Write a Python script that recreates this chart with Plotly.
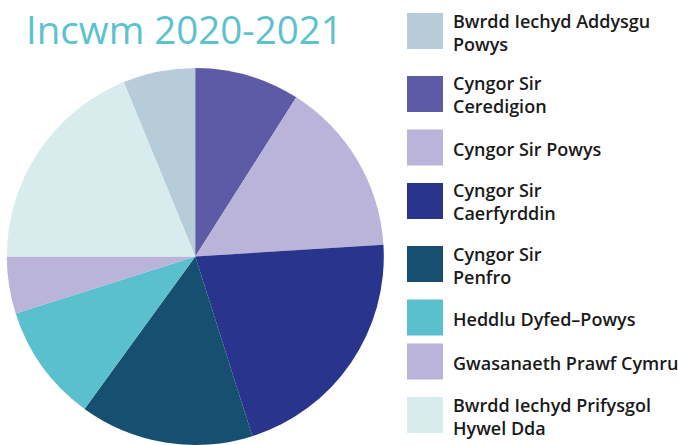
import plotly.graph_objects as go

W, H = 678, 445

title_text = "Incwm 2020-2021"
labels = [
    "Bwrdd Iechyd Addysgu<br>Powys",
    "Cyngor Sir<br>Ceredigion",
    "Cyngor Sir Powys",
    "Cyngor Sir<br>Caerfyrddin",
    "Cyngor Sir<br>Penfro",
    "Heddlu Dyfed\u2013Powys",
    "Gwasanaeth Prawf Cymru",
    "Bwrdd Iechyd Prifysgol<br>Hywel Dda",
]
values = [6.2, 9.0, 15.0, 21.1, 14.9, 10.1, 4.9, 18.8]
colors = ["#b7ccd9", "#5d5ba5", "#bab4da", "#29348c", "#164f70", "#5bc0cd", "#bab4da", "#d8ecee"]

total = sum(values)
rotation = -values[0] / total * 360

def px_x(x):
    return x / W

def px_y(y):
    return 1 - y / H

fig = go.Figure()
fig.add_trace(go.Pie(
    labels=[l.replace("<br>", " ") for l in labels],
    values=values,
    marker=dict(colors=colors, line=dict(width=0)),
    sort=False,
    direction="clockwise",
    rotation=rotation,
    textinfo="none",
    hoverinfo="label+percent",
    showlegend=False,
    domain=dict(x=[px_x(6.8), px_x(383.8)], y=[0, px_y(68)]),
))

shapes = []
annotations = []
# legend layout
sq = 36
sq_x0 = 407
txt_x = 451
base_gap = 44
extra = 9.5
cy = 31.0
font = dict(family="Open Sans", size=18, color="#1a1a1a", weight=600)
for i, (lab, col) in enumerate(zip(labels, colors)):
    if i > 0:
        n_prev = labels[i - 1].count("<br>")
        n_cur = lab.count("<br>")
        cy += base_gap + extra * n_prev + extra * n_cur
    shapes.append(dict(type="rect", xref="paper", yref="paper",
                       x0=px_x(sq_x0), x1=px_x(sq_x0 + sq),
                       y0=px_y(cy + sq / 2), y1=px_y(cy - sq / 2),
                       fillcolor=col, line=dict(width=0), layer="above"))
    annotations.append(dict(text=lab, xref="paper", yref="paper",
                            x=px_x(txt_x), y=px_y(cy + 1), xanchor="left", yanchor="middle",
                            align="left", showarrow=False, font=font))

annotations.append(dict(text=title_text, xref="paper", yref="paper",
                        x=px_x(23.5), y=px_y(28.5), xanchor="left", yanchor="middle",
                        showarrow=False,
                        font=dict(family="Open Sans", size=38.5, color="#5cc2cf")))

fig.update_layout(
    width=W, height=H,
    margin=dict(l=0, r=0, t=0, b=0),
    paper_bgcolor="white",
    plot_bgcolor="white",
    shapes=shapes,
    annotations=annotations,
)

fig.write_html("out.html",
               config=dict(displayModeBar=False),
               post_script="document.body.style.margin='0';document.body.style.overflow='hidden';")
